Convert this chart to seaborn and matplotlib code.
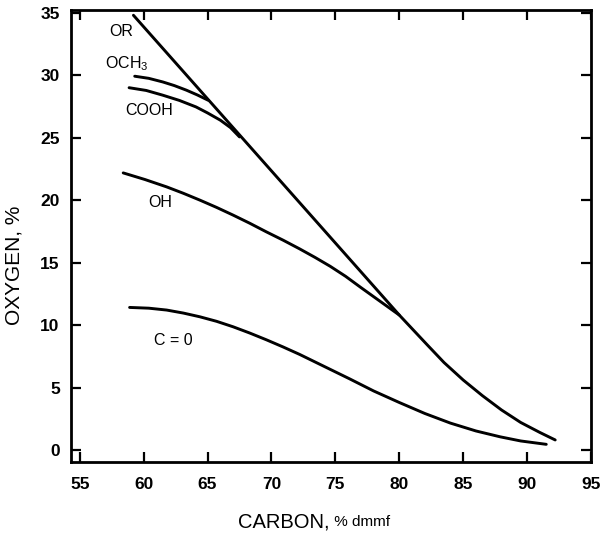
import matplotlib
matplotlib.use("Agg")
import matplotlib.pyplot as plt
import seaborn as sns
import pandas as pd

# Oxygen content (%) against carbon content (% dmmf) for each oxygen group
or_carbon = [59.2, 80.0, 81.1, 82.2, 83.5, 85.0, 86.5, 88.0, 89.5, 91.0, 92.2]
or_oxygen = [34.8, 10.8, 9.6, 8.4, 7.0, 5.6, 4.35, 3.2, 2.2, 1.4, 0.8]

och3_carbon = [59.3, 60.4, 61.5, 62.4, 63.35, 64.2, 65.04]
och3_oxygen = [29.92, 29.75, 29.46, 29.17, 28.8, 28.42, 28.0]

cooh_carbon = [58.86, 60.2, 61.5, 62.8, 64.1, 65.0, 66.0, 66.8, 67.5]
cooh_oxygen = [29.0, 28.78, 28.4, 27.98, 27.46, 26.98, 26.4, 25.8, 25.06]

oh_carbon = [58.4, 60.1, 61.8, 63.1, 64.4, 65.7, 67.0, 68.3, 69.6, 70.9,
             72.2, 73.4, 74.6, 75.8, 77.0, 78.5, 80.0]
oh_oxygen = [22.18, 21.65, 21.06, 20.55, 20.0, 19.42, 18.8, 18.15, 17.46, 16.8,
             16.1, 15.42, 14.7, 13.9, 13.0, 11.9, 10.8]

co_carbon = [58.9, 60.4, 61.8, 63.1, 64.4, 65.7, 67.0, 68.3, 69.6, 70.9, 72.2,
             74.0, 76.1, 78.0, 80.0, 82.0, 84.0, 86.0, 87.9, 89.5, 91.5]
co_oxygen = [11.41, 11.35, 11.2, 10.96, 10.66, 10.3, 9.86, 9.36, 8.82, 8.25, 7.65,
             6.75, 5.7, 4.72, 3.8, 2.92, 2.15, 1.52, 1.05, 0.72, 0.45]

# Curve labels and where they sit
label_text = ["OR", "OCH$_3$", "COOH", "OH", "C = 0"]
label_carbon = [58.25, 58.7, 60.4, 61.3, 62.3]
label_oxygen = [33.5, 30.9, 27.2, 19.8, 8.8]

x_ticks = [55, 60, 65, 70, 75, 80, 85, 90, 95]
y_ticks = [0, 5, 10, 15, 20, 25, 30, 35]

sns.set_theme(style="ticks")
plt.rcParams["font.family"] = ["Liberation Sans", "DejaVu Sans"]
plt.rcParams["mathtext.fontset"] = "custom"
plt.rcParams["mathtext.rm"] = "Liberation Sans"
plt.rcParams["mathtext.it"] = "Liberation Sans"
plt.rcParams["text.color"] = "black"
plt.rcParams["axes.labelcolor"] = "black"
plt.rcParams["xtick.color"] = "black"
plt.rcParams["ytick.color"] = "black"
plt.rcParams["axes.edgecolor"] = "black"

frames = []
for name, cx, oy in [("OR", or_carbon, or_oxygen),
                     ("OCH3", och3_carbon, och3_oxygen),
                     ("COOH", cooh_carbon, cooh_oxygen),
                     ("OH", oh_carbon, oh_oxygen),
                     ("C=O", co_carbon, co_oxygen)]:
    frames.append(pd.DataFrame({"carbon": cx, "oxygen": oy, "group": name}))
data = pd.concat(frames, ignore_index=True)

fig = plt.figure(figsize=(6.0, 5.4), dpi=100)
ax = fig.add_axes([0.118, 0.145, 0.867, 0.836])

sns.lineplot(data=data, x="carbon", y="oxygen", units="group", estimator=None,
             sort=False, color="black", linewidth=2.1, ax=ax, legend=False)

for txt, cx, oy in zip(label_text, label_carbon, label_oxygen):
    ax.text(cx, oy, txt, ha="center", va="center", fontsize=11.5, color="black")

ax.set_xlim(54.3, 95.0)
ax.set_ylim(-0.94, 35.2)
ax.set_xticks(x_ticks)
ax.set_yticks(y_ticks)
ax.set_xticklabels([str(v) for v in x_ticks], fontweight="bold", fontsize=12.5)
ax.set_yticklabels([str(v) for v in y_ticks], fontweight="bold", fontsize=12.5)
ax.tick_params(axis="both", direction="in", length=7, width=1.6, color="black",
               top=True, right=True, pad=8)
ax.tick_params(axis="x", pad=11)

for side in ax.spines.values():
    side.set_linewidth(2.0)
    side.set_color("black")
    side.set_visible(True)

ax.set_ylabel("OXYGEN, %", fontsize=15)
ax.yaxis.set_label_coords(-0.09, 0.435)

ax.set_xlabel("")
xl = ax.text(0.41, -0.133, "CARBON,", transform=ax.transAxes, ha="center",
             va="center", fontsize=14.5)
ax.annotate(" % dmmf", xy=(1.0, 0.1), xycoords=xl, ha="left", va="bottom",
            fontsize=11)

fig.savefig("out.png", dpi=100, facecolor="white")
